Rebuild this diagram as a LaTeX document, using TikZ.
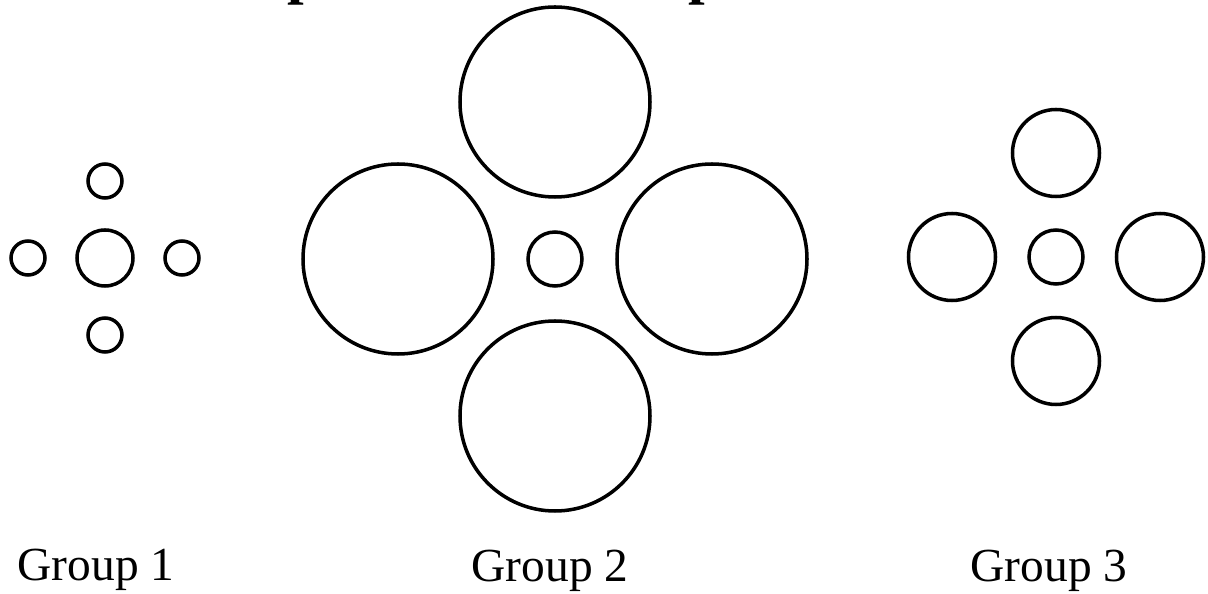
\documentclass[tikz,border=0pt]{standalone}
\usepackage{fontspec}
\setmainfont{Liberation Serif}
\usetikzlibrary{positioning}

\begin{document}
\begin{tikzpicture}[
        x=0.02cm, y=-0.02cm,
        % ===== Estilos =====
        ring/.style={circle, draw=black, line width=2pt, fill=none,
                     inner sep=0pt, outer sep=0pt, minimum size=#1},
        grouplabel/.style={font=\fontsize{27}{30}\selectfont, anchor=base,
                           inner sep=0pt},
        titlebit/.style={font=\fontsize{34}{40}\selectfont\bfseries, anchor=base,
                         inner sep=0pt}
    ]
        \useasboundingbox (0,0) rectangle (1208,594);

        % ===== Titulo (recortado por el borde superior) =====
        \begin{scope}
            \clip (0,0) rectangle (1208,594);
            \node[titlebit] (titleA) at (304,-7) {p};
            \node[titlebit] (titleB) at (705,-7) {p};
        \end{scope}

        % ===== Grupos: centro, radio central, radio exterior, distancia =====
        \foreach \i/\xc/\yc/\rc/\ro/\dd in {%
            1/105/258/28/17/77,
            2/555/259/27/95/157,
            3/1056/257/27/43.5/104%
        }{
            \node[ring=2*\rc*0.02cm] (g\i c) at (\xc,\yc) {};
            \node[ring=2*\ro*0.02cm] (g\i n) at (\xc,\yc-\dd) {};
            \node[ring=2*\ro*0.02cm] (g\i s) at (\xc,\yc+\dd) {};
            \node[ring=2*\ro*0.02cm] (g\i w) at (\xc-\dd,\yc) {};
            \node[ring=2*\ro*0.02cm] (g\i e) at (\xc+\dd,\yc) {};
        }

        % ===== Etiquetas =====
        \node[grouplabel] (lab1) at (96,581) {Group 1};
        \node[grouplabel] (lab2) at (550,582) {Group 2};
        \node[grouplabel] (lab3) at (1049,582) {Group 3};
    \end{tikzpicture}
\end{document}
